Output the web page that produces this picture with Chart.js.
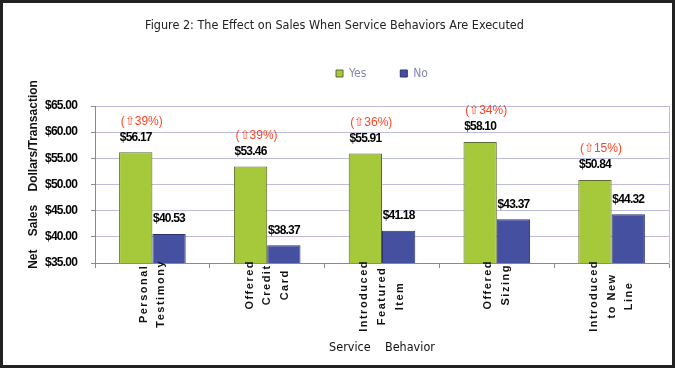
<!DOCTYPE html>
<html>
<head>
<meta charset="utf-8">
<script src="https://cdn.jsdelivr.net/npm/chart.js@4.4.1/dist/chart.umd.min.js"></script>
<style>
  html, body { margin: 0; padding: 0; background: #fff; }
  #wrap { width: 675px; height: 368px; }
</style>
</head>
<body>
<div id="wrap"><canvas id="salesChart" width="675" height="368"></canvas></div>
<script>
  // Data
  const behaviors = [
    ["Personal", "Testimony"],
    ["Offered", "Credit", "Card"],
    ["Introduced", "Featured", "Item"],
    ["Offered", "Sizing"],
    ["Introduced", "to New", "Line"]
  ];
  const yesSales = [56.17, 53.46, 55.91, 58.10, 50.84];
  const noSales = [40.53, 38.37, 41.18, 43.37, 44.32];
  const liftPct = [39, 39, 36, 34, 15];
  const yTicks = [35, 40, 45, 50, 55, 60, 65];

  const narrow = "'Liberation Sans Narrow', 'DejaVu Sans Condensed', sans-serif";
  const sans = "'Liberation Sans', Arial, sans-serif";

  const colors = {
    yes: '#a6c93c',
    yesEdge: '#5a6a30',
    no: '#4650a0',
    noEdge: '#2c3370',
    grid: '#bcbcdc',
    axis: '#8a8a8a',
    lift: '#ff4422',
    legendText: '#8585b5'
  };

  // category axis whose rotated multi-line labels are centred line by line
  class SpacedCategoryScale extends Chart.CategoryScale {
    drawLabels() {
      const ctx = this.ctx;
      const opts = this.options.ticks;
      const font = Chart.helpers.toFont(opts.font);
      ctx.save();
      ctx.font = font.string;
      ctx.letterSpacing = '1.5px';
      ctx.fillStyle = opts.color;
      ctx.textAlign = 'center';
      ctx.textBaseline = 'middle';
      const top = this.top + opts.padding;
      this.ticks.forEach((tick, i) => {
        const lines = [].concat(tick.label);
        const widest = Math.max(...lines.map(l => ctx.measureText(l).width));
        const x = this.getPixelForTick(i);
        lines.forEach((line, j) => {
          ctx.save();
          ctx.translate(x + (j - (lines.length - 1) / 2) * font.lineHeight, top + widest / 2);
          ctx.rotate(-Math.PI / 2);
          ctx.fillText(line, 0, 0);
          ctx.restore();
        });
      });
      ctx.restore();
    }
  }
  SpacedCategoryScale.id = 'spacedCategory';
  SpacedCategoryScale.defaults = Chart.CategoryScale.defaults;

  // value axis with tightly packed (narrow looking) tick labels
  class TightLinearScale extends Chart.LinearScale {
    drawLabels(area) {
      this.ctx.save();
      this.ctx.letterSpacing = '-0.8px';
      super.drawLabels(area);
      this.ctx.restore();
    }
  }
  TightLinearScale.id = 'tightLinear';
  TightLinearScale.defaults = Chart.LinearScale.defaults;
  Chart.register(SpacedCategoryScale, TightLinearScale);

  const barLabels = {
    id: 'barLabels',
    afterDatasetsDraw(chart) {
      const ctx = chart.ctx;
      ctx.save();
      ctx.textAlign = 'center';
      ctx.textBaseline = 'middle';
      chart.data.datasets.forEach((ds, di) => {
        chart.getDatasetMeta(di).data.forEach((bar, i) => {
          ctx.font = "bold 12px " + sans;
          ctx.letterSpacing = '-0.8px';
          ctx.fillStyle = '#000';
          ctx.fillText('$' + ds.data[i].toFixed(2), bar.x, bar.y - 15);
          if (di === 0) {
            ctx.font = "12px " + sans;
            ctx.letterSpacing = '0px';
            ctx.fillStyle = colors.lift;
            ctx.fillText('(\u21e7' + liftPct[i] + '%)', bar.x + 6, bar.y - 31);
          }
        });
      });
      ctx.restore();
    },
    afterDraw(chart) {
      const ctx = chart.ctx;
      ctx.save();
      ctx.strokeStyle = '#222';
      ctx.lineWidth = 3;
      ctx.strokeRect(1.5, 1.5, chart.width - 3, chart.height - 3);
      ctx.restore();
    }
  };

  new Chart(document.getElementById('salesChart'), {
    type: 'bar',
    data: {
      labels: behaviors,
      datasets: [
        {
          label: 'Yes',
          data: yesSales,
          backgroundColor: colors.yes,
          borderColor: colors.yesEdge,
          borderWidth: 1
        },
        {
          label: 'No',
          data: noSales,
          backgroundColor: colors.no,
          borderColor: colors.noEdge,
          borderWidth: 1
        }
      ]
    },
    options: {
      responsive: false,
      animation: false,
      layout: { padding: { left: 0, right: 6, top: 0, bottom: 0 } },
      datasets: { bar: { categoryPercentage: 0.58, barPercentage: 1 } },
      plugins: {
        title: {
          display: true,
          text: 'Figure 2: The Effect on Sales When Service Behaviors Are Executed',
          color: '#222',
          font: { family: narrow, size: 12.5, weight: 'normal', lineHeight: 1 },
          padding: { top: 19, bottom: 2 }
        },
        legend: {
          display: true,
          fullSize: false,
          labels: {
            boxWidth: 7,
            boxHeight: 7,
            padding: 34,
            color: colors.legendText,
            font: { family: narrow, size: 12 }
          }
        },
        tooltip: { enabled: false }
      },
      scales: {
        x: {
          type: 'spacedCategory',
          offset: true,
          afterFit: s => { s.height = 105; },
          grid: { display: true, drawOnChartArea: false, offset: true, tickLength: 5, color: colors.axis },
          border: { color: colors.axis },
          ticks: {
            z: 1,
            color: '#111',
            padding: -3,
            font: { family: sans, size: 11, weight: 'bold', lineHeight: 1.6 }
          },
          title: {
            display: true,
            text: 'Service    Behavior',
            color: '#111',
            font: { family: narrow, size: 12.5 },
            padding: { top: 0, bottom: 13 }
          }
        },
        xTop: {
          position: 'top',
          afterFit: s => { s.height = 16.5; },
          grid: { display: false },
          border: { display: false },
          ticks: { display: false }
        },
        y: {
          type: 'tightLinear',
          min: 35,
          max: 65,
          afterFit: s => { s.width = 95; },
          afterBuildTicks: s => { s.ticks = yTicks.map(v => ({ value: v })); },
          grid: { color: colors.grid, tickColor: colors.axis, tickLength: 4 },
          border: { color: colors.axis },
          ticks: {
            color: '#000',
            padding: 14,
            font: { family: sans, size: 12, weight: 'bold' },
            callback: v => '$' + v.toFixed(2)
          },
          title: {
            display: true,
            text: '      Net    Sales    Dollars/Transaction',
            color: '#111',
            font: { family: sans, size: 12, weight: 'bold' },
            padding: { top: 26, bottom: 0 }
          }
        },
        yRight: {
          position: 'right',
          min: 35,
          max: 65,
          afterFit: s => { s.width = 0; },
          grid: { display: false },
          border: { color: colors.grid },
          ticks: { display: false }
        }
      }
    },
    plugins: [barLabels]
  });
</script>
</body>
</html>
